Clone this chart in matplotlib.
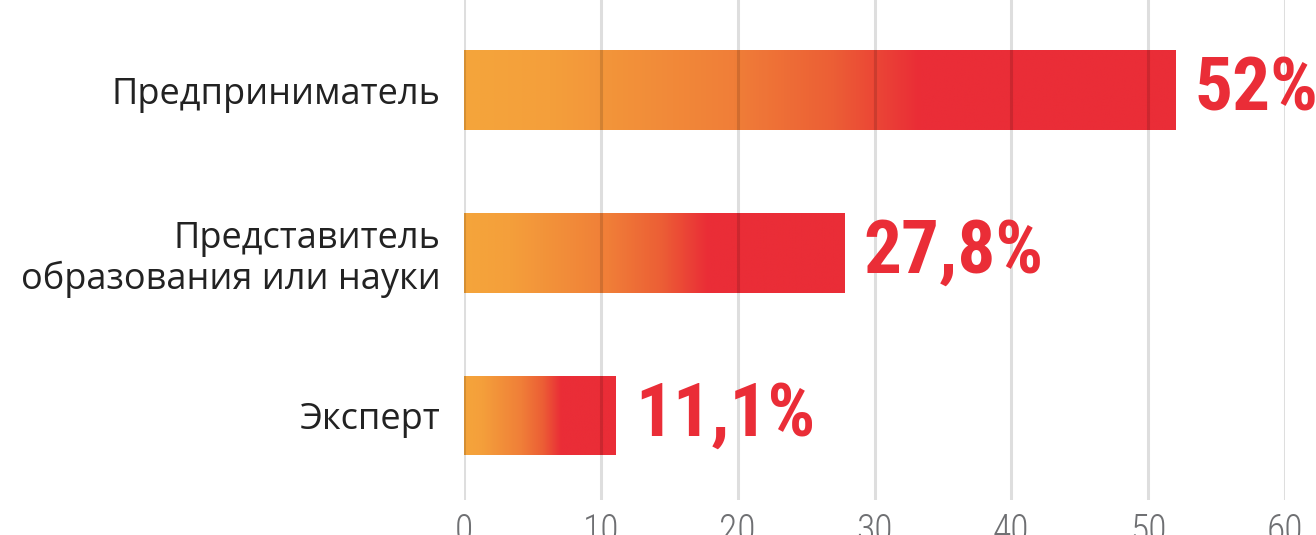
import matplotlib
matplotlib.use("Agg")
import matplotlib.pyplot as plt
import numpy as np
from matplotlib.colors import LinearSegmentedColormap

categories = ["Предприниматель", "Представитель\nобразования или науки", "Эксперт"]
values = [52, 27.8, 11.1]
value_labels = ["52%", "27,8%", "11,1%"]
xticks = [0, 10, 20, 30, 40, 50, 60]

RED = "#EA2D37"
grad = LinearSegmentedColormap.from_list(
    "bar_grad",
    [(0.0, "#F5A53B"), (0.12, "#F49F3B"), (0.38, "#F07E38"),
     (0.52, "#EC5E35"), (0.64, RED), (1.0, RED)])

# first installed family wins, narrow ones preferred
NARROW = ["Roboto Condensed", "Open Sans Condensed", "Liberation Sans Narrow",
          "DejaVu Sans Condensed", "Roboto", "DejaVu Sans"]

fig = plt.figure(figsize=(13.16, 5.35), dpi=100)
ax = fig.add_axes([464 / 1316, 35 / 535, (1285 - 464) / 1316, 500 / 535])

y = np.arange(len(categories))
bars = ax.barh(y, values, height=0.49, color="none", edgecolor="none", zorder=1)

ramp = grad(np.linspace(0, 1, 512))[None, :, :]
for b in bars:
    x0, y0, w, h = b.get_x(), b.get_y(), b.get_width(), b.get_height()
    im = ax.imshow(ramp, extent=[x0, x0 + w, y0 + h, y0], aspect="auto",
                   interpolation="bilinear", zorder=1)
    im.set_clip_path(b)

for xv in xticks:
    ax.axvline(xv, color="black", alpha=0.13, lw=2.2, zorder=2)

for yi, v, lab in zip(y, values, value_labels):
    ax.text(v + 1.4, yi, lab, ha="left", va="center", color=RED,
            fontsize=54, fontweight="bold", family=NARROW, zorder=3)

ax.set_xlim(0, 60)
ax.set_ylim(2.52, -0.554)
ax.set_xticks(xticks)
ax.set_xticklabels([str(t) for t in xticks], family=NARROW, fontsize=27,
                   fontweight="light", color="#6F7073")
ax.set_yticks(y)
ax.set_yticklabels(categories, family="Open Sans", fontsize=26,
                   color="#222222", linespacing=1.15)
ax.tick_params(axis="x", length=0, pad=9)
ax.tick_params(axis="y", length=0, pad=17)
for s in ax.spines.values():
    s.set_visible(False)

fig.savefig("out.png", dpi=100)
